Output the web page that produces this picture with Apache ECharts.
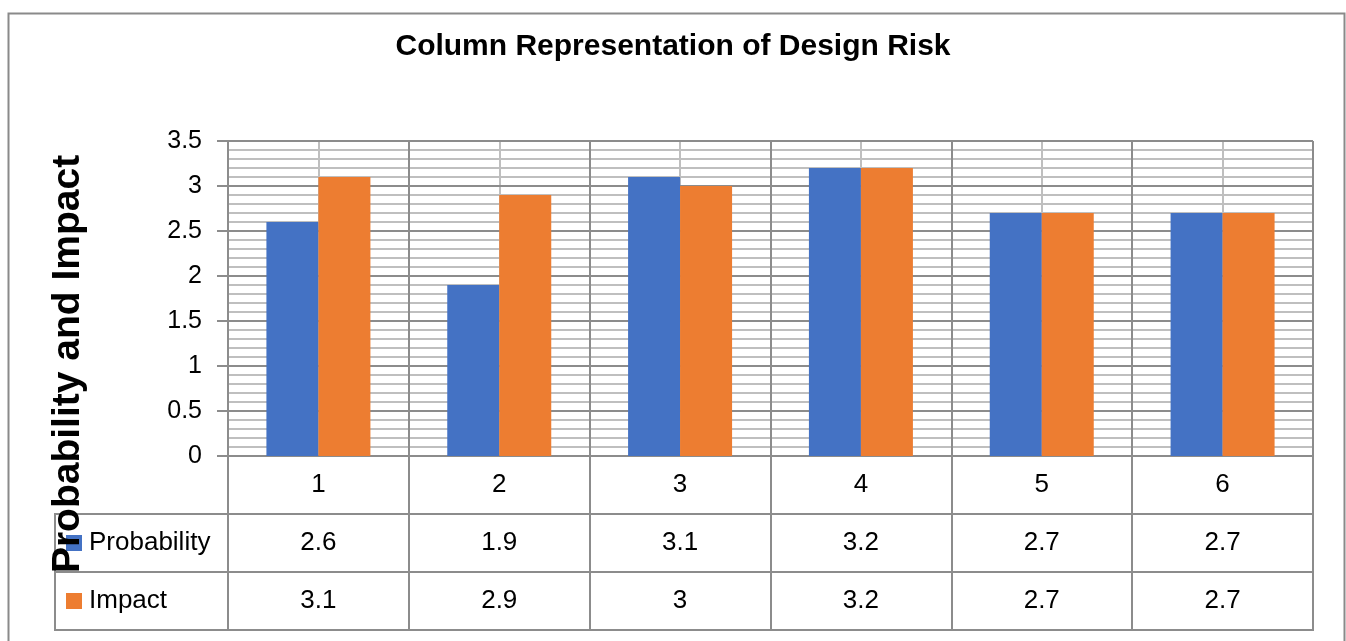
<!DOCTYPE html>
<html>
<head>
<meta charset="utf-8">
<script src="https://cdn.jsdelivr.net/npm/echarts@6/dist/echarts.min.js"></script>
<style>
  html, body { margin: 0; padding: 0; background: #ffffff; }
  #chart { width: 1346px; height: 641px; }
</style>
</head>
<body>
<div id="chart"></div>
<script>
// Risk categories and the two measured series
const categories = ['1', '2', '3', '4', '5', '6'];
const probability = [2.6, 1.9, 3.1, 3.2, 2.7, 2.7];
const impact = [3.1, 2.9, 3, 3.2, 2.7, 2.7];
const seriesNames = ['Probability', 'Impact'];
const seriesColors = ['#4472C4', '#ED7D31'];
const yTicks = { min: 0, max: 3.5, step: 0.5 };

const FONT = '"Liberation Sans", Arial, sans-serif';
const GRID_LINE = '#8c8c8c';
const MINOR_LINE = '#bfbfbf';

// Rows of the data table under the plot: category row, then one row per series
const tableRows = ['cat', 'Probability', 'Impact'];
const tableCells = [];
categories.forEach((c, i) => {
  tableCells.push({ value: [c, 'cat'], text: c });
  tableCells.push({ value: [c, 'Probability'], text: String(probability[i]) });
  tableCells.push({ value: [c, 'Impact'], text: String(impact[i]) });
});

const chart = echarts.init(document.getElementById('chart'), null, { renderer: 'canvas' });

const plot = { left: 228, top: 141, width: 1085, height: 315 };
const table = { left: 228, top: 456, width: 1085, height: 174 };

const option = {
  backgroundColor: '#ffffff',
  animation: false,
  title: {
    text: 'Column Representation of Design Risk',
    left: 'center',
    top: 27,
    textStyle: { fontFamily: FONT, fontWeight: 'bold', fontSize: 30, color: '#000' }
  },
  grid: [
    { left: plot.left, top: plot.top, width: plot.width, height: plot.height, containLabel: false },
    { left: table.left, top: table.top, width: table.width, height: table.height, containLabel: false,
      show: true, borderColor: GRID_LINE, borderWidth: 2, backgroundColor: 'transparent' }
  ],
  xAxis: [
    {
      // category axis of the plot, major vertical lines on category boundaries
      type: 'category', gridIndex: 0, data: categories, z: 2,
      axisLine: { show: true, lineStyle: { color: GRID_LINE, width: 2 } },
      axisTick: { show: false },
      axisLabel: { show: false },
      splitLine: { show: true, interval: 0, lineStyle: { color: GRID_LINE, width: 2 } }
    },
    {
      // half-category lines (visible through the gaps at category centres)
      type: 'value', gridIndex: 0, min: 0, max: 12, interval: 1, z: 0,
      axisLine: { show: false }, axisTick: { show: false }, axisLabel: { show: false },
      splitLine: { show: true, lineStyle: { color: MINOR_LINE, width: 2 } }
    },
    {
      // table columns
      type: 'category', gridIndex: 1, data: categories,
      axisLine: { show: false }, axisTick: { show: false }, axisLabel: { show: false },
      splitLine: { show: true, interval: 0, lineStyle: { color: GRID_LINE, width: 2 } }
    }
  ],
  yAxis: [
    {
      type: 'value', gridIndex: 0, min: yTicks.min, max: yTicks.max, interval: yTicks.step, z: 1,
      axisLine: { show: true, lineStyle: { color: GRID_LINE, width: 2 } },
      axisTick: { show: true, length: 11, lineStyle: { color: GRID_LINE, width: 2 } },
      axisLabel: { margin: 26, fontFamily: FONT, fontSize: 25, color: '#000' },
      splitLine: { show: true, lineStyle: { color: GRID_LINE, width: 2 } },
      minorTick: { show: false, splitNumber: 5 },
      minorSplitLine: { show: true, lineStyle: { color: MINOR_LINE, width: 2 } }
    },
    {
      // table rows with legend keys
      type: 'category', gridIndex: 1, data: tableRows, inverse: true,
      axisLine: { show: false }, axisTick: { show: false },
      splitLine: { show: true, interval: 0, lineStyle: { color: GRID_LINE, width: 2 } },
      axisLabel: {
        interval: 0,
        align: 'left',
        margin: 162,
        formatter: function (v) {
          if (v === 'cat') return '';
          const idx = seriesNames.indexOf(v);
          return '{k' + idx + '|}{t|' + v + '}';
        },
        rich: {
          k0: { width: 16, height: 16, backgroundColor: seriesColors[0] },
          k1: { width: 16, height: 16, backgroundColor: seriesColors[1] },
          t: { fontFamily: FONT, fontSize: 26, color: '#000', padding: [0, 0, 0, 7] }
        }
      }
    }
  ],
  series: [
    {
      name: seriesNames[0], type: 'bar', xAxisIndex: 0, yAxisIndex: 0,
      data: probability, barWidth: 52, barGap: '0%', z: 3,
      itemStyle: { color: seriesColors[0] }
    },
    {
      name: seriesNames[1], type: 'bar', xAxisIndex: 0, yAxisIndex: 0,
      data: impact, barWidth: 52, barGap: '0%', z: 3,
      itemStyle: { color: seriesColors[1] }
    },
    {
      // table cell text
      type: 'scatter', xAxisIndex: 2, yAxisIndex: 1,
      data: tableCells, symbolSize: 0, silent: true,
      itemStyle: { opacity: 1 },
      label: {
        show: true, position: 'inside', opacity: 1,
        formatter: p => p.data.text,
        fontFamily: FONT, fontSize: 26, color: '#000'
      }
    }
  ],
  graphic: [
    // outer chart frame
    { type: 'rect', left: 6, top: 11, shape: { width: 1336, height: 640 },
      style: { fill: 'none', stroke: '#8a8a8a', lineWidth: 2 }, z: -10 },
    // legend column of the data table
    { type: 'polyline', shape: { points: [[228, 514], [55, 514], [55, 630], [228, 630]] },
      style: { fill: 'none', stroke: GRID_LINE, lineWidth: 2 } },
    { type: 'line', shape: { x1: 55, y1: 572, x2: 228, y2: 572 },
      style: { stroke: GRID_LINE, lineWidth: 2 } },
    // vertical axis title
    { type: 'text', x: 68, y: 364, rotation: Math.PI / 2,
      style: { text: 'Probability and Impact', fontFamily: FONT, fontWeight: 'bold', fontSize: 39,
        fill: '#000', align: 'center', verticalAlign: 'middle' }, z: 50 }
  ]
};

chart.setOption(option);
</script>
</body>
</html>
